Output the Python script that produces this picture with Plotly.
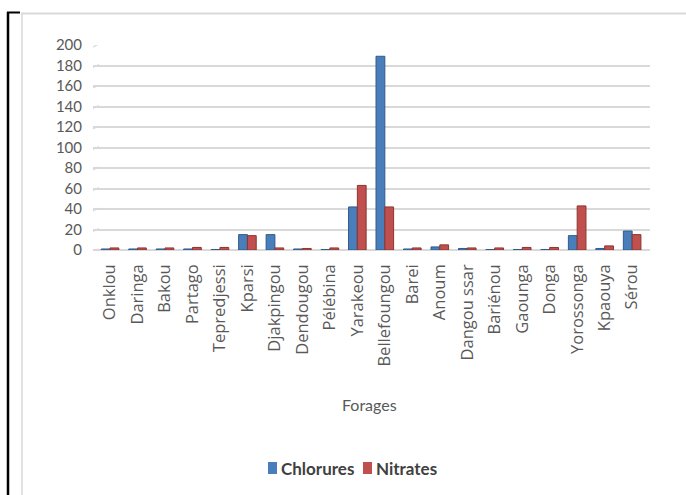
import plotly.graph_objects as go

categories = ["Onklou", "Daringa", "Bakou", "Partago", "Tepredjessi", "Kparsi",
              "Djakpingou", "Dendougou", "Pélébina", "Yarakeou", "Bellefoungou",
              "Barei", "Anoum", "Dangou ssar", "Bariénou", "Gaounga", "Donga",
              "Yorossonga", "Kpaouya", "Sérou"]
chlorures = [1, 1, 1, 1, 0.5, 15, 15, 1, 0.5, 42, 189, 1, 3, 1.5, 0.5, 0.5, 0.5, 14, 1.5, 18.5]
nitrates = [2, 2, 2, 2.5, 2.5, 14, 2, 1.5, 2, 63, 42, 2, 5, 2, 2, 2.5, 2.5, 43, 4, 15]
y_ticks = [0, 20, 40, 60, 80, 100, 120, 140, 160, 180, 200]
series_names = ["Chlorures", "Nitrates"]
series_colors = ["#4A7EBB", "#C0504D"]
series_edges = ["#2F5A8C", "#8C3532"]

W, H = 686, 495
L, R, T, B = 93, 36, 45, 245
pw, ph = W - L - R, H - T - B

def px(x):
    return (x - L) / pw

def py(y):
    return (H - B - y) / ph

FONT = "Lato, 'Open Sans', sans-serif"
TICKFONT = "'Open Sans', Lato, sans-serif"
GRAY = "#595959"

fig = go.Figure()
for name, vals, col, edge in zip(series_names, [chlorures, nitrates], series_colors, series_edges):
    fig.add_trace(go.Bar(x=categories, y=vals, name=name, showlegend=False,
                         marker=dict(color=col, line=dict(color=edge, width=1))))

shapes = []
# left perspective stubs of gridlines
for v in y_ticks:
    shapes.append(dict(type="line", xref="paper", yref="y", x0=px(93), x1=px(99),
                       y0=v - 2, y1=v + 1, line=dict(color="#d9d9d9", width=1.2)))
# outer chart border (light gray)
shapes.append(dict(type="line", xref="paper", yref="paper", x0=px(21), x1=px(686),
                   y0=py(13.5), y1=py(13.5), line=dict(color="#d9d9d9", width=2)))
shapes.append(dict(type="line", xref="paper", yref="paper", x0=px(22), x1=px(22),
                   y0=py(13.5), y1=py(495), line=dict(color="#d9d9d9", width=1.5)))
# black frame
shapes.append(dict(type="line", xref="paper", yref="paper", x0=px(8), x1=px(8),
                   y0=py(12), y1=py(495), line=dict(color="black", width=2.5)))
shapes.append(dict(type="line", xref="paper", yref="paper", x0=px(7), x1=px(20),
                   y0=py(12.5), y1=py(12.5), line=dict(color="black", width=2)))

annotations = [dict(text="Forages", xref="paper", yref="paper", x=px(369), y=py(404),
                    showarrow=False, font=dict(size=16, color=GRAY, family=FONT),
                    xanchor="center", yanchor="middle")]

# custom legend
legend_x = [268, 363]
for lx, name, col in zip(legend_x, series_names, series_colors):
    shapes.append(dict(type="rect", xref="paper", yref="paper",
                       x0=px(lx), x1=px(lx + 9), y0=py(474), y1=py(462),
                       fillcolor=col, line=dict(width=0)))
    annotations.append(dict(text=name, xref="paper", yref="paper", x=px(lx + 11), y=py(468),
                            showarrow=False, xanchor="left", yanchor="middle",
                            font=dict(size=17, color="#404040", family=FONT, weight="bold")))

fig.update_layout(
    width=W, height=H,
    margin=dict(l=L, r=R, t=T, b=B),
    paper_bgcolor="white", plot_bgcolor="white",
    barmode="group", bargap=0.36, bargroupgap=0.0,
    font=dict(family=FONT, color=GRAY, size=15),
    shapes=shapes,
    showlegend=False,
    annotations=annotations,
)
fig.update_xaxes(range=[-0.62, 19.65], tickangle=-90, showgrid=False, showline=False,
                 ticks="", ticklabelstandoff=10,
                 tickfont=dict(size=16.5, color=GRAY, family=TICKFONT))
fig.update_yaxes(range=[0, 200], tickvals=y_ticks, showgrid=True, gridcolor="#d9d9d9",
                 gridwidth=1.5, zeroline=True, zerolinecolor="#d9d9d9", zerolinewidth=1.5,
                 showline=False, ticks="", ticklabelstandoff=10,
                 tickfont=dict(size=15, color=GRAY, family=FONT))

fig.write_html("out.html")
